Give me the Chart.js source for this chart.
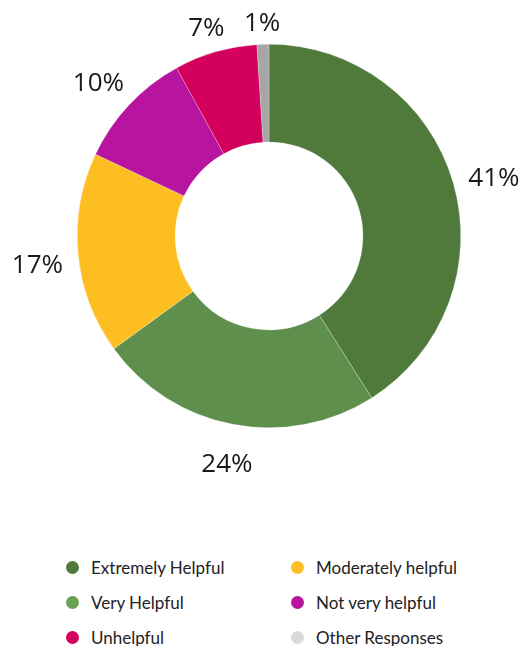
<!DOCTYPE html>
<html>
<head>
<meta charset="utf-8">
<script src="https://cdn.jsdelivr.net/npm/chart.js@4/dist/chart.umd.min.js"></script>
<style>
  body { margin: 0; background: #fff; width: 530px; height: 646px; position: relative; overflow: hidden; }
  #pie { position: absolute; left: 0; top: 0; }
  #legend { position: absolute; left: 66px; top: 555px; display: grid; grid-template-columns: 225px 225px; row-gap: 11px;
            font-family: Lato, "Noto Sans", sans-serif; font-size: 17px; color: #222; }
  #legend div { display: flex; align-items: center; height: 24px; }
  #legend span.dot { width: 13px; height: 13px; border-radius: 50%; margin-right: 12px; flex: none; }
</style>
</head>
<body>
<canvas id="pie" width="530" height="520"></canvas>
<div id="legend"></div>
<script>
var labels = ['Extremely Helpful', 'Very Helpful', 'Moderately helpful', 'Not very helpful', 'Unhelpful', 'Other Responses'];
var values = [41, 24, 17, 10, 7, 1];
var sliceColors = ['#4f7a3c', '#5f8f4c', '#fdbe22', '#b7149f', '#d3005d', '#a6a6a6'];
var legendColors = ['#4f7a3c', '#68a055', '#fdbe22', '#b7149f', '#d3005d', '#d9d9d9'];
// legend reads column by column, three rows
var legendOrder = [0, 2, 1, 3, 4, 5];

// percentage labels just outside each slice
var outsideLabels = {
  id: 'outsideLabels',
  afterDatasetsDraw: function(chart) {
    var ctx = chart.ctx;
    var meta = chart.getDatasetMeta(0);
    ctx.save();
    ctx.font = '26px "Open Sans", sans-serif';
    ctx.fillStyle = '#1a1a1a';
    ctx.textAlign = 'center';
    ctx.textBaseline = 'middle';
    meta.data.forEach(function(arc, i) {
      var mid = (arc.startAngle + arc.endAngle) / 2;
      var dx = Math.cos(mid), dy = Math.sin(mid);
      var text = values[i] + '%';
      var hw = ctx.measureText(text).width / 2;
      var dist = arc.outerRadius + 14 + Math.abs(dx) * hw + Math.abs(dy) * 14;
      ctx.fillText(text, arc.x + dx * dist, arc.y + dy * dist + 8);
    });
    ctx.restore();
  }
};

new Chart(document.getElementById('pie'), {
  type: 'doughnut',
  data: {
    labels: labels,
    datasets: [{
      data: values,
      backgroundColor: sliceColors,
      borderColor: 'rgba(255,255,255,0.5)',
      borderWidth: 0.5
    }]
  },
  options: {
    responsive: false,
    animation: false,
    cutout: '49%',
    layout: { padding: { top: 44, bottom: 92, left: 77, right: 69 } },
    plugins: {
      legend: { display: false },
      tooltip: { enabled: false }
    }
  },
  plugins: [outsideLabels]
});

var legendBox = document.getElementById('legend');
legendOrder.forEach(function(i) {
  var row = document.createElement('div');
  var dot = document.createElement('span');
  dot.className = 'dot';
  dot.style.background = legendColors[i];
  row.appendChild(dot);
  row.appendChild(document.createTextNode(labels[i]));
  legendBox.appendChild(row);
});
</script>
</body>
</html>
